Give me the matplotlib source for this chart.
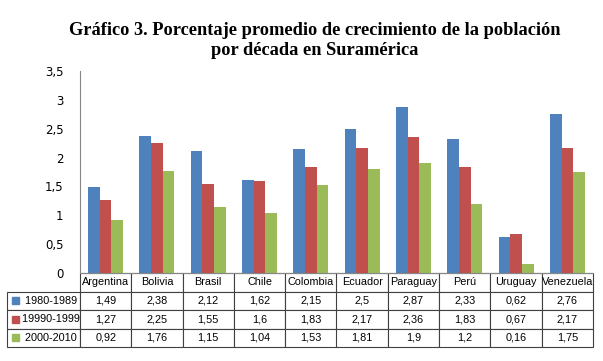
import matplotlib.pyplot as plt
from matplotlib.patches import Rectangle
import numpy as np

paises = ['Argentina', 'Bolivia', 'Brasil', 'Chile', 'Colombia', 'Ecuador',
          'Paraguay', 'Perú', 'Uruguay', 'Venezuela']
series = ['1980-1989', '19990-1999', '2000-2010']
v_1980 = [1.49, 2.38, 2.12, 1.62, 2.15, 2.5, 2.87, 2.33, 0.62, 2.76]
v_1990 = [1.27, 2.25, 1.55, 1.6, 1.83, 2.17, 2.36, 1.83, 0.67, 2.17]
v_2000 = [0.92, 1.76, 1.15, 1.04, 1.53, 1.81, 1.9, 1.2, 0.16, 1.75]
colores = ['#4F81BD', '#C0504D', '#9BBB59']
yticks = [0, 0.5, 1, 1.5, 2, 2.5, 3, 3.5]

fig = plt.figure(figsize=(6.03, 3.61), dpi=100)
ax = fig.add_axes([80 / 603, 1 - 273 / 361, 513 / 603, 202 / 361])

x = np.arange(len(paises))
w = 0.227
for i, vals in enumerate([v_1980, v_1990, v_2000]):
    ax.bar(x + (i - 1) * w, vals, w, color=colores[i], edgecolor='none')

ax.set_xlim(-0.5, len(paises) - 0.5)
ax.set_ylim(0, 3.5)
ax.set_yticks(yticks)
ax.set_yticklabels([('%g' % t).replace('.', ',') for t in yticks], fontsize=8.5)
ax.tick_params(axis='y', length=0, pad=12)
ax.set_xticks([])
for s in ['top', 'right']:
    ax.spines[s].set_visible(False)
ax.spines['left'].set_color('#868686')
ax.spines['bottom'].set_color('#868686')

# tabla de datos bajo el eje (primera columna = etiquetas de serie)
lab_w = 73 / 513
col_w = 1 / len(paises)
h_tab = 74 / 202
celdas = []
for s, vals in zip(series, [v_1980, v_1990, v_2000]):
    celdas.append(['     ' + s] + [('%g' % v).replace('.', ',') for v in vals])
tabla = ax.table(cellText=celdas, colLabels=[''] + paises,
                 colWidths=[lab_w] + [col_w] * len(paises), cellLoc='center',
                 bbox=[-lab_w, -h_tab, 1 + lab_w, h_tab])
tabla.auto_set_font_size(False)
tabla.set_fontsize(7.8)
for (r, c), cell in tabla.get_celld().items():
    cell.set_edgecolor('#404040')
    cell.set_linewidth(0.8)
    cell.get_text().set_family('Liberation Sans')
    if c == 0:
        cell._loc = 'left'
        cell.PAD = 0.02
        if r == 0:
            cell.visible_edges = ''

# marcadores de leyenda en las filas
for i in range(3):
    yc = -h_tab * (i + 1.5) / 4
    ax.add_patch(Rectangle((-lab_w + 5 / 513, yc - 3.5 / 202), 7 / 513, 7 / 202,
                           transform=ax.transAxes, color=colores[i], clip_on=False,
                           zorder=5))

fig.text(0.522, 0.915, 'Gráfico 3. Porcentaje promedio de crecimiento de la población',
         ha='center', va='center', fontsize=13.2, fontweight='bold', family='Liberation Serif')
fig.text(0.522, 0.86, 'por década en Suramérica',
         ha='center', va='center', fontsize=13.2, fontweight='bold', family='Liberation Serif')

fig.savefig('out.png', dpi=100)
